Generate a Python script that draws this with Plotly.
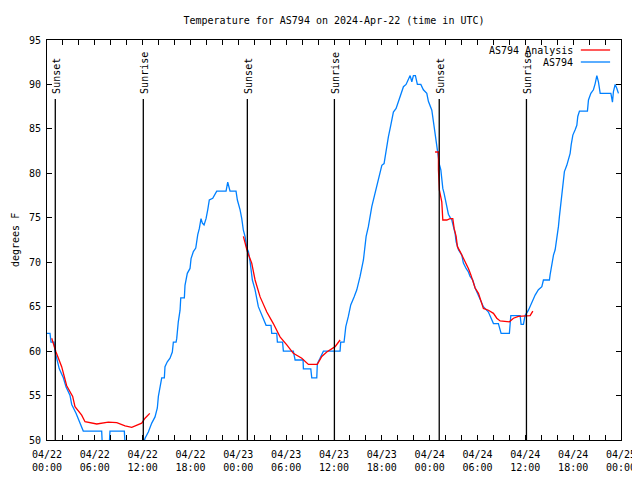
import pandas as pd
import plotly.graph_objects as go

FONT = "DejaVu Sans Mono"
BASE = pd.Timestamp("2024-04-22 00:00")

# Observed temperature (AS794): hours since 2024-04-22 00:00 UTC, degrees F
obs_hours = [0.0, 0.38, 0.5, 0.88, 1.0, 1.54, 2.05, 2.38, 2.89, 3.1, 3.64, 4.14, 4.55,
             6.86, 6.96, 7.78, 7.9, 9.7, 9.82, 11.9, 12.3, 12.71, 13.14, 13.55, 13.84,
             13.97, 14.18, 14.39, 14.72, 14.8, 15.09, 15.43, 15.72, 15.85, 16.19, 16.27,
             16.47, 16.69, 16.78, 17.23, 17.31, 17.6, 17.94, 18.07, 18.36, 18.66, 18.91,
             19.11, 19.32, 19.49, 19.7, 19.95, 20.16, 20.36, 20.79, 21.29, 22.46, 22.67,
             22.96, 23.71, 23.88, 24.22, 24.43, 24.63, 24.84, 25.06, 25.26, 25.47, 25.76,
             26.1, 26.51, 26.94, 27.48, 28.1, 28.19, 28.82, 28.9, 29.55, 29.65, 30.9,
             31.12, 32.12, 32.16, 33.09, 33.21, 33.84, 33.91, 34.25, 34.67, 36.76, 36.84,
             37.26, 37.48, 37.8, 38.1, 38.52, 38.86, 39.27, 39.69, 40.03, 40.31, 40.74,
             41.15, 41.57, 42.0, 42.28, 42.53, 42.82, 43.12, 43.45, 43.79, 44.08, 44.38,
             44.71, 45.04, 45.33, 45.55, 45.76, 45.96, 46.21, 46.46, 46.89, 47.21, 47.64,
             47.84, 48.27, 48.56, 48.81, 48.97, 49.22, 49.4, 49.52, 49.65, 49.81, 50.06,
             50.35, 50.56, 50.78, 50.98, 51.19, 51.32, 51.61, 52.03, 52.23, 52.57, 52.86,
             53.07, 53.41, 53.7, 54.12, 54.33, 54.74, 55.37, 56.0, 56.62, 56.96, 58.0,
             58.18, 59.35, 59.47, 59.76, 59.97, 60.39, 60.82, 61.23, 61.64, 62.07, 62.27,
             63.02, 63.11, 63.32, 63.53, 63.74, 63.95, 64.15, 64.27, 64.45, 64.57, 64.78,
             64.9, 65.2, 65.4, 65.62, 65.75, 65.96, 66.25, 66.46, 66.58, 66.79, 67.79,
             67.92, 68.22, 68.54, 68.76, 68.97, 69.17, 69.39, 70.73, 70.93, 71.05, 71.27,
             71.48, 71.68]
obs_temps = [62, 62, 61, 61, 60, 58, 57, 56, 55, 54, 53, 52, 51,
             51, 49, 49, 51, 51, 49, 49, 50.2, 50.9, 51.9, 52.6, 53.6,
             54.9, 56, 57, 57, 58.25, 58.8, 59.2, 59.9, 61, 61, 61.4,
             63.3, 64.6, 66, 66, 67.4, 68.75, 69.3, 70.4, 71.2, 71.6, 73.1,
             73.8, 74.9, 74.4, 74.2, 74.9, 75.9, 77, 77.2, 78, 78, 79,
             78, 78, 77, 75.9, 74.9, 73.6, 72.9, 71.6, 71.2, 70.1, 68,
             66.9, 65, 64.1, 62.9, 62.9, 62, 62, 61, 61, 60, 60,
             59, 59, 58, 58, 57, 57, 58.6, 59.2, 60, 60, 61,
             61, 62.75, 63.9, 65.2, 66.1, 66.9, 68.4, 70.25, 72.9, 74, 76.25,
             77.75, 79.25, 80.9, 81.1, 82.6, 84.1, 85.4, 86.9, 87.3, 88.1, 88.8,
             89.75, 90, 90.7, 91, 90.3, 91, 91, 90, 90, 89.4, 89,
             88.1, 87.1, 85.25, 83.75, 82.4, 81.0, 80.4, 79.4, 78.3, 77.75, 76.5,
             75.4, 75.05, 74.75, 74, 73.25, 72.3, 71.4, 70.8, 69.9, 69.3, 68.9,
             68.4, 68, 67.1, 66.3, 65.75, 65, 64.4, 63.1, 63.1, 62, 62,
             64, 64, 63, 63, 64, 64.6, 65.55, 66.3, 66.9, 67.25, 68,
             68, 68.6, 69.9, 70.8, 71.4, 72.5, 74, 75.1, 76.4, 77.4, 78.9,
             80.2, 80.9, 81.5, 82.25, 83.2, 84.3, 84.9, 85.4, 86.4, 87, 87,
             88.25, 89, 89.4, 90.1, 91, 90.3, 89, 89, 88, 89.2, 90,
             89.55, 89]

# Analysis temperature (three separate runs; None marks the gaps)
ana_hours = [0.59, 1.13, 1.84, 2.47, 3.22, 3.51, 4.35, 4.77, 6.24, 7.69, 8.75, 9.79,
             10.63, 11.88, 12.3, 12.89, 18.0,
             24.63, 25.13, 25.68, 26.1, 26.73, 27.57, 28.39, 29.23, 30.08, 30.9, 31.96,
             32.79, 33.91, 34.47, 35.09, 36.14, 36.76, 42.0,
             48.68, 49.1, 49.1, 49.22, 49.52, 49.65, 50.15, 50.56, 50.9, 51.07, 51.32,
             51.48, 51.82, 52.16, 52.45, 52.86, 53.16, 53.41, 53.7, 54.12, 54.42, 54.74,
             55.37, 56.0, 56.42, 56.84, 58.0, 58.51, 59.13, 60.6, 60.94]
ana_temps = [61.44, 59.9, 58.25, 56.1, 54.9, 53.75, 52.8, 52.06, 51.8, 52.0, 51.95, 51.6,
             51.43, 51.9, 52.45, 53.0, None,
             72.9, 71.2, 69.9, 68.0, 66.1, 64.4, 63.1, 61.6, 60.7, 59.75, 59.2,
             58.5, 58.5, 59.4, 59.9, 60.5, 61.25, None,
             82.4, 82.4, 80.4, 78.1, 76.8, 74.75, 74.75, 74.9, 74.9, 73.8, 72.9,
             71.75, 71.2, 70.6, 70.05, 69.3, 68.6, 68.0, 67.1, 66.5, 65.75, 64.8,
             64.6, 64.25, 63.7, 63.4, 63.3, 63.7, 63.9, 64.0, 64.5]

# Sun events (hours since 2024-04-22 00:00 UTC)
event_labels = ["Sunset", "Sunrise", "Sunset", "Sunrise", "Sunset", "Sunrise"]
event_hours = [1.04, 12.08, 25.13, 36.05, 49.2, 60.14]

legend_names = ["AS794 Analysis", "AS794"]
legend_colors = ["#ff0000", "#0080ff"]

title_text = "Temperature for AS794 on 2024-Apr-22 (time in UTC)"
y_title = "degrees F"


def to_time(hours):
    return [BASE + pd.Timedelta(hours=h) for h in hours]


fig = go.Figure()
fig.add_trace(go.Scatter(x=to_time(obs_hours), y=obs_temps, mode="lines",
                         name=legend_names[1], line=dict(color=legend_colors[1], width=1.3),
                         showlegend=False))
fig.add_trace(go.Scatter(x=to_time(ana_hours), y=ana_temps, mode="lines",
                         name=legend_names[0], line=dict(color=legend_colors[0], width=1.3),
                         connectgaps=False, showlegend=False))

shapes = []
annotations = []
for lab, h in zip(event_labels, event_hours):
    t = BASE + pd.Timedelta(hours=h)
    shapes.append(dict(type="line", xref="x", yref="paper", x0=t, x1=t, y0=0, y1=0.8525,
                       line=dict(color="black", width=1.3)))
    annotations.append(dict(text=lab, xref="x", yref="paper", x=t, y=0.861,
                            xanchor="center", yanchor="bottom", textangle=-90,
                            showarrow=False, xshift=1,
                            font=dict(family=FONT, size=10, color="black")))

# manual legend (text to the left of the sample line)
leg_y = [0.975, 0.945]
for name, col, yy in zip(legend_names, legend_colors, leg_y):
    annotations.append(dict(text=name, xref="paper", yref="paper", x=0.919, y=yy,
                            xanchor="right", yanchor="middle", showarrow=False,
                            font=dict(family=FONT, size=10, color="black")))
    shapes.append(dict(type="line", xref="paper", yref="paper", x0=0.930, x1=0.981,
                       y0=yy, y1=yy, line=dict(color=col, width=1.3)))

# y-axis title as a rotated annotation at the far left
annotations.append(dict(text=y_title, xref="paper", yref="paper", x=-32 / 574, y=0.5,
                        xanchor="center", yanchor="middle", textangle=-90, showarrow=False,
                        font=dict(family=FONT, size=10, color="black")))

# the page places the figure 8px in from the top-left corner of the window
fig.update_layout(
    width=632, height=472,
    margin=dict(l=39, r=19, t=32, b=40, pad=0, autoexpand=False),
    paper_bgcolor="white", plot_bgcolor="white",
    font=dict(family=FONT, size=10, color="black"),
    title=dict(text=title_text, x=0.5, xref="paper", y=1 - 12 / 472, yanchor="middle",
               font=dict(family=FONT, size=10, color="black")),
    shapes=shapes, annotations=annotations,
    showlegend=False,
)
fig.update_xaxes(
    range=[BASE, BASE + pd.Timedelta(hours=72)],
    tickformat="%m/%d<br>%H:%M", dtick=6 * 3600 * 1000, tick0=BASE,
    ticks="inside", ticklen=5, tickcolor="black", tickwidth=1,
    minor=dict(dtick=2 * 3600 * 1000, ticks="inside", ticklen=5, tickcolor="black",
               showgrid=False),
    showline=True, linecolor="black", linewidth=1, mirror="allticks",
    showgrid=False, zeroline=False, automargin=False,
    tickfont=dict(family=FONT, size=10, color="black"),
    ticklabelstandoff=5,
)
fig.update_yaxes(
    range=[50, 95], dtick=5, tick0=50,
    ticks="inside", ticklen=5, tickcolor="black", tickwidth=1,
    showline=True, linecolor="black", linewidth=1, mirror="allticks",
    showgrid=False, zeroline=False, automargin=False,
    tickfont=dict(family=FONT, size=10, color="black"),
    ticklabelstandoff=3,
)

fig.write_html("out.html")
